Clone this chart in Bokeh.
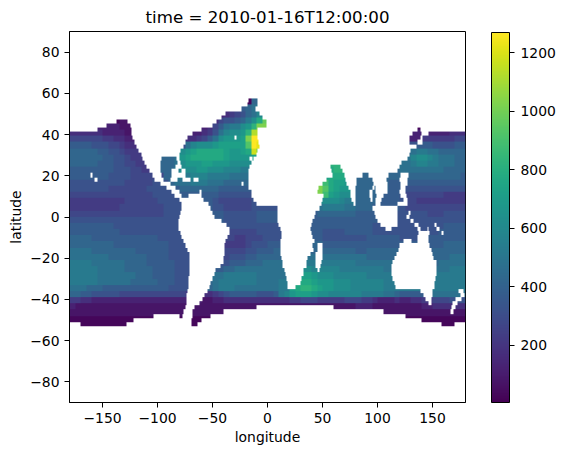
import numpy as np
from bokeh.plotting import figure
from bokeh.models import LinearColorMapper, ColorBar, FixedTicker, Range1d
from bokeh.palettes import Viridis256
from bokeh.embed import file_html
from bokeh.resources import INLINE

TITLE = "time = 2010-01-16T12:00:00"
X_LABEL = "longitude"
Y_LABEL = "latitude"
X_TICKS = [-150, -100, -50, 0, 50, 100, 150]
Y_TICKS = [-80, -60, -40, -20, 0, 20, 40, 60, 80]
CB_TICKS = [200, 400, 600, 800, 1000, 1200]
V_MIN = 5
V_MAX = 1270

# value: 50-unit levels, one character per 5 deg of longitude,
# one row per 3 deg of latitude, first row is 57..54 N
LEVELS = "0123456789abcdefghijklmnop"
LEVEL_VALUES = [25, 75, 125, 175, 225, 275, 325, 375, 425, 475, 525, 575, 625,
                675, 725, 775, 825, 875, 925, 975, 1025, 1075, 1125, 1175, 1225, 1275]
FIELD = [
"000000000000 000000000000 000000000888 000000000000 000000000000 000000000000",
"000000000000 000000000000 000000078 9aa 000000000000 000000000000 000000000000",
"000000000000 000000000000 00023456 89bd 000000000000 000000000000 000000000000",
"000000000111 111111111122 22356678acfj j00000000000 000000000000 000000000000",
"000002222111 111111111122 23579aacdgkk k00000000000 000000000000 000000000000",
"333333222211 111111111222 3469bccdgmmk k00000000000 000000000000 222222222333",
"555555443322 222222222334 579cdddekppk k00000000000 000000000000 222244444455",
"777766655433 333333336 9bc ccdeeeeeipol l00000000000 000000000000 666777666677",
"888887766544 44444444cdef ffffeddefnkk 000000000000 000000000000 889aa9988888",
"888888776654 44448889deff ffffeddddeee 000000000000 000000000000 99bccba99988",
"888887776655 44458889cddd eedddccccccc 00000000000g ggg000000009 99abbaa99988",
"777777776665 54458 88acccd dcccbbbaaaaa 00000000000f ggf000000088 999999998888",
"777777766665 5555588aaabb baaaa9999999 0000000000ef ffe088888888 888888888887",
"666666666655 555666899 9aa a99988888888 000000000hhf eedd88888877 777777777777",
"666666655555 556666678888 888777777777 000000000kif eddc88888877 766666666666",
"555555555555 555666667777 777666666777 000000000khe dccb88888777 655555554444",
"444444444455 555566666777 776555555666 00000000cccc cbaa88887777 655444444444",
"444444444555 555556666777 776655555666 66000000 99aa aa9988877777 655555555555",
"555555555555 555556666777 777766666677 7700000 77888 888877777766 666665556666",
"666666666666 666666666667 777766666677 7700000 77777 777777777666 666666666666",
"777777776666 666666666666 666666666666 6660000 77777 777777766666 666666667777",
"777777777666 666666666666 555555555566 6660000 77766 667777766666 666666677777",
"888877777777 777766666666 555555445556 6660000 77766 666666777777 666667777777",
"888888887777 777777666666 444444445666 7770000 88877 777777777777 777777778888",
"999988888888 777777666666 555555556677 7880000 88888 888877888888 777777888888",
"999999988888 887777666666 555556667788 8880000 99999 999999888888 777777888999",
"aaaa99999988 887777766666 666667778889 999000 aaaaaa aaaa99999999 888888899999",
"aaaaa9999988 888777766666 777788999999 999900ccbbbb baaaaaaaa999 999999999aaa",
"aaaaa9999999 888777766666 8899aaaaaa99 9999deeedccc bbbbbbaaaaaa 999999aaaaaa",
"aaaaa9999998 888877766666 889aaaaaaa99 99aaefffeddd cccbbbbbbaaa aaaaaaaaaaaa",
"999888777777 777777666666 589aaa999999 99aaefggfedd cccbbbbbbaaa aaaaaaaaaaaa",
"887766666555 555555555444 334567777766 67abdeeedccb bbbbbaaaa998 777777999999",
"443322222222 222222222222 112233333333 333344555444 445554432223 223344555666",
"211111111111 111111111111 111111111111 111111111111 111122211111 111122333333",
"111111111111 111111111111 111111111111 111111111111 111111111111 111111111111",
"000000000000 000000000000 000000000000 000000000000 000000000000 000000000000",
"000000000000 000000000000 000000000000 000000000000 000000000000 000000000000",
]

# ocean stretches (west, east) on each latitude row
OCEAN_LATS = list(range(56, -54, -2))
OCEAN_SEGMENTS = [
[(-17,-9)],
[(-18,-9)],
[(-24,-11)],
[(-38,-7)],
[(-42,-5)],
[(-137,-127),(-46,-1)],
[(-146,-125),(-50,-1)],
[(-155,-124),(-60,-9),(136,139)],
[(-180,-124),(-68,-9),(132,140),(146,180)],
[(-180,-123),(-73,-30),(-28,-9),(129,139),(141,180)],
[(-180,-121),(-75,-8),(129,136),(141,180)],
[(-180,-119),(-76,-7),(135,180)],
[(-180,-117),(-79,-9),(130,180)],
[(-180,-115),(-80,-10),(129,180)],
[(-180,-114),(-96,-83),(-80,-16),(-14,-13),(127,180)],
[(-180,-112),(-97,-82),(-79,-15),(122,180)],
[(-180,-110),(-97,-84),(-78,-16),(57,66),(120,180)],
[(-180,-107),(-97,-87),(-81,-78),(-75,-17),(58,68),(118,180)],
[(-180,-161),(-159,-105),(-96,-87),(-75,-17),(59,70),(86,92),(110,121),(128,180)],
[(-180,-157),(-155,-103),(-95,-88),(-82,-77),(-70,-67),(-63,-17),(54,71),(81,95),(108,120),(127,180)],
[(-180,-97),(-88,-24),(-22,-17),(50,72),(81,96),(109,121),(127,180)],
[(-180,-92),(-84,-17),(46,74),(80,95),(97,98),(109,121),(125,180)],
[(-180,-87),(-80,-62),(-60,-15),(45,75),(80,93),(95,98),(109,120),(125,180)],
[(-180,-85),(-78,-72),(-60,-15),(51,75),(80,93),(95,99),(105,121),(126,180)],
[(-180,-80),(-58,-13),(50,76),(80,94),(95,98),(104,124),(127,180)],
[(-180,-78),(-54,-10),(49,78),(80,98),(103,118),(127,180)],
[(-180,-78),(-52,9),(47,95),(118,180)],
[(-180,-79),(-50,9),(44,97),(118,128),(130,180)],
[(-180,-80),(-48,9),(43,98),(118,126),(129,180)],
[(-180,-81),(-42,9),(41,100),(118,130),(133,180)],
[(-180,-81),(-37,10),(40,103),(118,134),(137,152),(154,180)],
[(-180,-81),(-35,12),(39,107),(113,136),(139,145),(146,154),(156,180)],
[(-180,-79),(-35,13),(40,137),(147,158),(160,180)],
[(-180,-78),(-36,13),(41,136),(146,180)],
[(-180,-76),(-38,12),(43,124),(131,136),(146,180)],
[(-180,-75),(-39,12),(41,45),(50,120),(147,180)],
[(-180,-73),(-39,12),(42,45),(50,119),(149,180)],
[(-180,-71),(-39,12),(39,44),(50,117),(150,180)],
[(-180,-71),(-40,13),(36,44),(50,115),(151,180)],
[(-180,-71),(-40,14),(35,44),(49,114),(154,180)],
[(-180,-71),(-43,14),(35,44),(48,113),(154,180)],
[(-180,-71),(-47,15),(33,45),(47,113),(154,180)],
[(-180,-71),(-48,16),(33,113),(154,180)],
[(-180,-72),(-50,17),(31,114),(153,180)],
[(-180,-72),(-52,18),(30,115),(152,180)],
[(-180,-72),(-53,18),(25,116),(152,180)],
[(-180,-73),(-55,139),(150,174),(178,180)],
[(-180,-74),(-57,142),(150,175),(179,180)],
[(-180,-74),(-59,144),(149,171),(176,180)],
[(-180,-74),(-62,146),(149,168),(173,180)],
[(-180,-75),(-66,-10),(60,167),(171,180)],
[(-180,-76),(-68,-40),(105,166),(169,180)],
[(-180,-104),(-80,-77),(-68,-52),(125,180)],
[(-180,-122),(-69,-60),(140,180)],
[(-170,-128),(-69,-64),(158,170)],
]

rows = [r.replace(" ", "") for r in FIELD]
assert len(rows) == 37, len(rows)
for i, r in enumerate(rows):
    assert len(r) == 72, (i, len(r))
assert len(OCEAN_LATS) == len(OCEAN_SEGMENTS), (len(OCEAN_LATS), len(OCEAN_SEGMENTS))

LAT0 = -54
grid = np.full((112, 360), np.nan)
for lat, segs in zip(OCEAN_LATS, OCEAN_SEGMENTS):
    for y in (lat - 1, lat):
        j = y - LAT0
        if j < 0 or j >= 112:
            continue
        r = min(36, (57 - (y + 1)) // 3)
        for w, e in segs:
            for lon in range(w, e):
                c = (lon + 180) // 5
                grid[j, lon + 180] = LEVEL_VALUES[LEVELS.index(rows[r][c])]

mapper = LinearColorMapper(palette=Viridis256, low=V_MIN, high=V_MAX,
                           nan_color=(0, 0, 0, 0))

FONT = "DejaVu Sans"
p = figure(frame_width=396, frame_height=371, output_backend="svg", toolbar_location=None,
           x_range=Range1d(-180, 180), y_range=Range1d(-90, 90),
           x_axis_label=X_LABEL, y_axis_label=Y_LABEL,
           min_border_left=56, min_border_top=24, min_border_bottom=40, min_border_right=76)
p.margin = (0, 0, 0, 5)
p.image(image=[grid], x=-180, y=LAT0, dw=360, dh=112, color_mapper=mapper)

p.grid.visible = False
p.background_fill_color = "white"
p.outline_line_color = "black"
p.outline_line_width = 1
p.title.text = TITLE
p.title.align = "center"
p.title.text_font = FONT
p.title.text_font_size = "16.67px"
p.title.text_font_style = "normal"
p.title.text_color = "#000000"

for ax, ticks in ((p.xaxis[0], X_TICKS), (p.yaxis[0], Y_TICKS)):
    ax.ticker = FixedTicker(ticks=ticks)
    ax.major_label_overrides = {t: str(t).replace("-", "\u2212") for t in ticks}
    ax.major_label_text_font = FONT
    ax.major_label_text_font_size = "13.9px"
    ax.major_label_text_color = "#000000"
    ax.axis_label_text_font = FONT
    ax.axis_label_text_font_size = "13.9px"
    ax.axis_label_text_font_style = "normal"
    ax.axis_label_text_color = "#000000"
    ax.axis_label_standoff = 3
    ax.major_tick_in = 0
    ax.major_tick_out = 5
    ax.minor_tick_line_color = None
    ax.axis_line_color = "black"
    ax.major_tick_line_color = "black"
p.yaxis[0].major_label_orientation = "horizontal"

cb = ColorBar(color_mapper=mapper, ticker=FixedTicker(ticks=CB_TICKS),
              width=18, height=370, padding=0, location=(26, 0),
              major_tick_in=0, major_tick_out=5, major_tick_line_color="black",
              minor_tick_line_color=None, bar_line_color="black",
              major_label_text_font=FONT, major_label_text_font_size="13.9px",
              major_label_text_color="#000000", label_standoff=6)
p.add_layout(cb, "right")

html = file_html(p, INLINE)
open("out.html", "w").write(html)
